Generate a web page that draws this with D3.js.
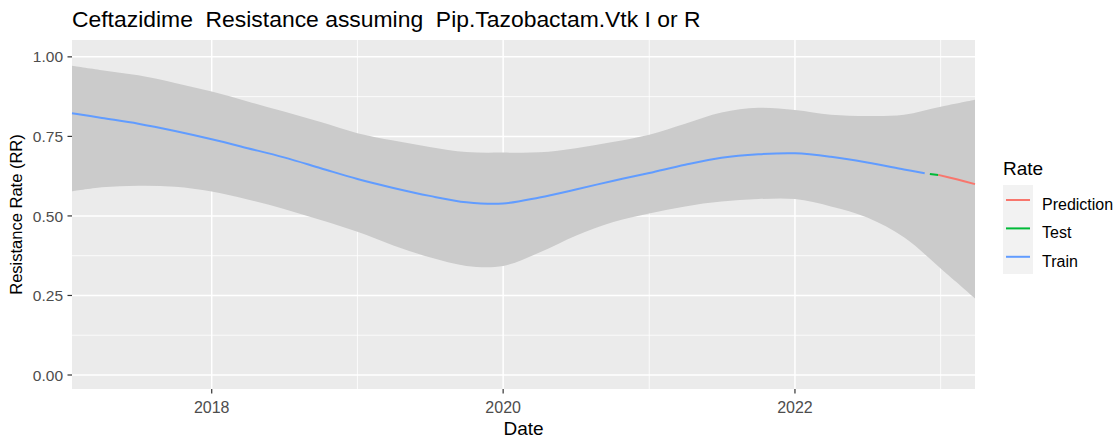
<!DOCTYPE html>
<meta charset="utf-8">
<title>Ceftazidime resistance</title>
<style>
body { margin: 0; background: #fff; }
text { font-family: "Liberation Sans", Arial, sans-serif; white-space: pre; }
.tick-label { fill: #4d4d4d; font-size: 15.5px; }
</style>
<body>
<script src="https://d3js.org/d3.v7.min.js"></script>
<script>

// ---- data ----
var ribbonDates = ["2017-01-16","2017-04-01","2017-07-01","2017-10-01","2018-01-01","2018-04-01",
  "2018-07-01","2018-10-01","2019-01-01","2019-04-01","2019-07-01","2019-10-01","2020-01-01",
  "2020-04-01","2020-07-01","2020-10-01","2021-01-01","2021-04-01","2021-07-01","2021-10-01",
  "2022-01-01","2022-04-01","2022-07-01","2022-10-01","2023-01-01","2023-03-28"];
var upper = [0.972,0.958,0.942,0.918,0.891,0.860,0.828,0.795,0.760,0.737,0.717,0.701,0.699,
  0.700,0.713,0.732,0.755,0.790,0.825,0.840,0.833,0.818,0.814,0.818,0.843,0.865];
var lower = [0.577,0.590,0.595,0.592,0.577,0.552,0.522,0.487,0.450,0.407,0.370,0.343,0.343,
  0.385,0.438,0.480,0.508,0.530,0.545,0.553,0.553,0.530,0.495,0.433,0.335,0.241];

var trainDates = ["2017-01-16","2017-04-01","2017-07-01","2017-10-01","2018-01-01","2018-04-01",
  "2018-07-01","2018-10-01","2019-01-01","2019-04-01","2019-07-01","2019-10-01","2020-01-01",
  "2020-04-01","2020-07-01","2020-10-01","2021-01-01","2021-04-01","2021-07-01","2021-10-01",
  "2022-01-01","2022-04-01","2022-07-01","2022-10-01","2022-11-22"];
var trainRate = [0.823,0.808,0.790,0.767,0.741,0.713,0.684,0.650,0.616,0.588,0.563,0.543,0.539,
  0.558,0.583,0.610,0.635,0.661,0.683,0.694,0.697,0.686,0.668,0.646,0.634];

var testDates = ["2022-12-05","2022-12-26"];
var testRate = [0.632,0.629];

var predDates = ["2022-12-26","2023-02-10","2023-03-28"];
var predRate = [0.629,0.615,0.600];

var xTicks = ["2018-01-01","2020-01-01","2022-01-01"];
var xMinor = ["2019-01-01","2021-01-01","2023-01-01"];
var yTicks = [0, 0.25, 0.5, 0.75, 1];
var yMinor = [0.125, 0.375, 0.625, 0.875];

var legendNames = ["Prediction", "Test", "Train"];
var legendColors = ["#F8766D", "#00BA38", "#619CFF"];

// ---- layout ----
var W = 1117, H = 440;
var margin = {top: 40, right: 142, bottom: 51, left: 72};
var pw = W - margin.left - margin.right,
    ph = H - margin.top - margin.bottom;

var parse = d3.timeParse("%Y-%m-%d");

var x = d3.scaleTime()
  .domain([parse("2017-01-16"), parse("2023-03-28")])
  .range([0, pw]);
var y = d3.scaleLinear()
  .domain([-0.044, 1.053])
  .range([ph, 0]);

var svg = d3.select("body").append("svg")
  .attr("width", W).attr("height", H);

var g = svg.append("g").attr("transform", "translate(" + margin.left + "," + margin.top + ")");

g.append("rect").attr("width", pw).attr("height", ph).attr("fill", "#ebebeb");

// grid
g.selectAll(".hminor").data(yMinor).enter().append("line")
  .attr("x1", 0).attr("x2", pw)
  .attr("y1", d => y(d)).attr("y2", d => y(d))
  .attr("stroke", "#fff").attr("stroke-width", 0.8);
g.selectAll(".vminor").data(xMinor).enter().append("line")
  .attr("x1", d => x(parse(d))).attr("x2", d => x(parse(d)))
  .attr("y1", 0).attr("y2", ph)
  .attr("stroke", "#fff").attr("stroke-width", 0.8);
g.selectAll(".hmajor").data(yTicks).enter().append("line")
  .attr("x1", 0).attr("x2", pw)
  .attr("y1", d => y(d)).attr("y2", d => y(d))
  .attr("stroke", "#fff").attr("stroke-width", 1.5);
g.selectAll(".vmajor").data(xTicks).enter().append("line")
  .attr("x1", d => x(parse(d))).attr("x2", d => x(parse(d)))
  .attr("y1", 0).attr("y2", ph)
  .attr("stroke", "#fff").attr("stroke-width", 1.5);

// ribbon
var ribbon = ribbonDates.map(function(d, i) {
  return {date: parse(d), lo: lower[i], hi: upper[i]};
});
g.append("path").datum(ribbon)
  .attr("fill", "#cbcbcb")
  .attr("d", d3.area().curve(d3.curveCatmullRom.alpha(0.5))
    .x(d => x(d.date)).y0(d => y(d.lo)).y1(d => y(d.hi)));

// lines
function series(dates, vals) {
  return dates.map(function(d, i) { return {date: parse(d), v: vals[i]}; });
}
var line = d3.line().curve(d3.curveCatmullRom.alpha(0.5)).x(d => x(d.date)).y(d => y(d.v));
[[trainDates, trainRate, legendColors[2]],
 [testDates, testRate, legendColors[1]],
 [predDates, predRate, legendColors[0]]].forEach(function(s) {
  g.append("path").datum(series(s[0], s[1]))
    .attr("fill", "none").attr("stroke", s[2]).attr("stroke-width", 2)
    .attr("d", line);
});

// axes
g.selectAll(".ytick").data(yTicks).enter().append("line")
  .attr("x1", -4.5).attr("x2", 0)
  .attr("y1", d => y(d)).attr("y2", d => y(d))
  .attr("stroke", "#333").attr("stroke-width", 1.2);
g.selectAll(".ylab").data(yTicks).enter().append("text")
  .attr("class", "tick-label")
  .attr("x", -9).attr("y", d => y(d)).attr("dy", "0.36em")
  .attr("text-anchor", "end")
  .text(d3.format(".2f"));

g.selectAll(".xtick").data(xTicks).enter().append("line")
  .attr("x1", d => x(parse(d))).attr("x2", d => x(parse(d)))
  .attr("y1", ph).attr("y2", ph + 4.5)
  .attr("stroke", "#333").attr("stroke-width", 1.2);
g.selectAll(".xlab").data(xTicks).enter().append("text")
  .attr("class", "tick-label")
  .attr("font-size", 16).style("font-size", "16px")
  .attr("x", d => x(parse(d))).attr("y", ph + 24)
  .attr("text-anchor", "middle")
  .text(d => d3.timeFormat("%Y")(parse(d)));

// titles
svg.append("text").attr("x", margin.left).attr("y", 27)
  .attr("font-size", 22.9).attr("fill", "#000")
  .text("Ceftazidime  Resistance assuming  Pip.Tazobactam.Vtk I or R");
svg.append("text").attr("x", margin.left + pw / 2).attr("y", 435)
  .attr("text-anchor", "middle").attr("font-size", 19).attr("fill", "#000")
  .text("Date");
svg.append("text")
  .attr("transform", "translate(22," + (margin.top + ph / 2) + ") rotate(-90)")
  .attr("text-anchor", "middle").attr("font-size", 16.5).attr("fill", "#000")
  .text("Resistance Rate (RR)");

// legend
var lg = svg.append("g").attr("transform", "translate(1003,0)");
lg.append("text").attr("x", 0).attr("y", 175).attr("font-size", 19).attr("fill", "#000").text("Rate");
lg.append("rect").attr("x", 0).attr("y", 185).attr("width", 30).attr("height", 89).attr("fill", "#f2f2f2");
legendNames.forEach(function(n, i) {
  var cy = 200 + i * 28.4;
  lg.append("line").attr("x1", 3).attr("x2", 27).attr("y1", cy).attr("y2", cy)
    .attr("stroke", legendColors[i]).attr("stroke-width", 2);
  lg.append("text").attr("x", 39).attr("y", cy + 10)
    .attr("font-size", 16).attr("fill", "#000").text(n);
});

</script>
</body>
